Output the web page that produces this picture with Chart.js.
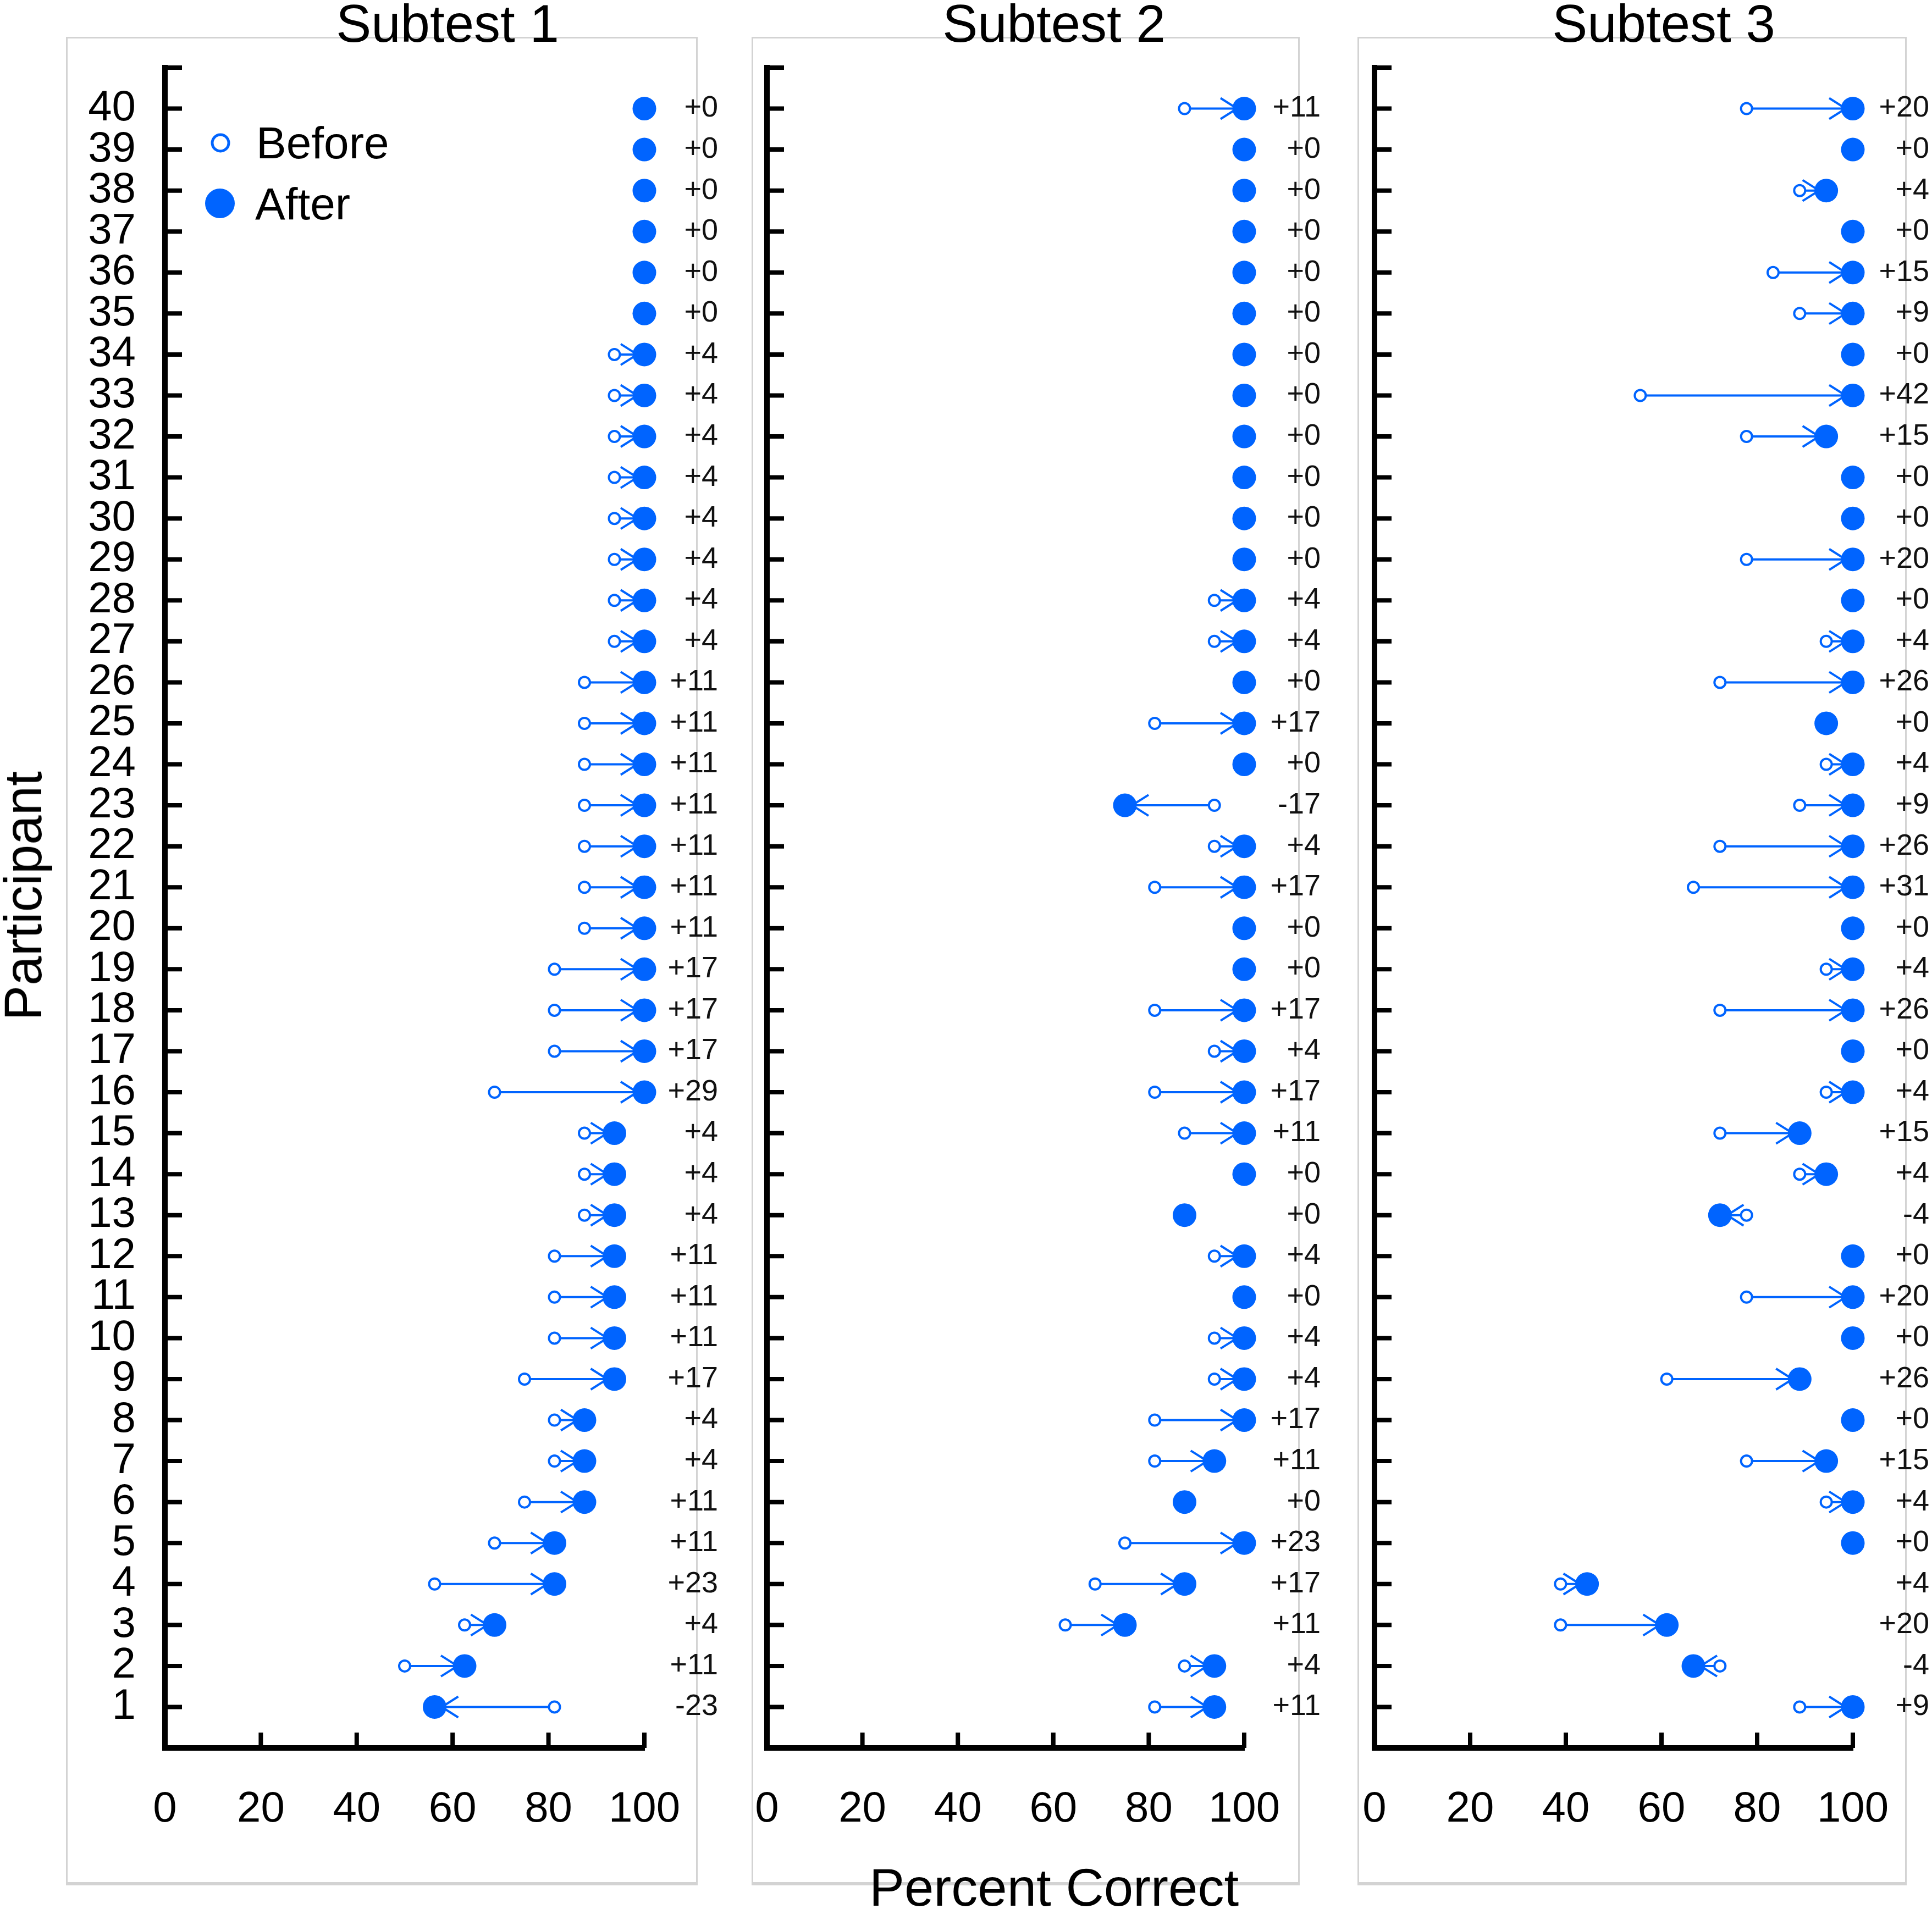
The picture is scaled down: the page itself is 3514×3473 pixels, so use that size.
<!DOCTYPE html>
<html lang="en">
<head>
<meta charset="UTF-8">
<title>Percent correct before and after, by subtest</title>
<script src="https://cdn.jsdelivr.net/npm/chart.js@4.4.1/dist/chart.umd.min.js"></script>
<style>
  html, body { margin: 0; padding: 0; background: #fff; }
  body { width: 3514px; height: 3473px; position: relative; overflow: hidden; font-family: "Liberation Sans", Arial, sans-serif; color: #000; }
  .panel { position: absolute; top: 67px; height: 3363px; box-sizing: border-box; border: 3px solid #d3d3d3; border-bottom-width: 6px; }
  canvas { position: absolute; top: 0; }
  .label { position: absolute; font-size: 96px; line-height: 1; white-space: nowrap; }
</style>
</head>
<body>
<div class="panel" style="left:120px; width:1149px;"></div>
<div class="panel" style="left:1367px; width:997px;"></div>
<div class="panel" style="left:2469px; width:999px;"></div>

<canvas id="chart1" width="1320" height="3473" style="left:0px;"></canvas>
<canvas id="chart2" width="1125" height="3473" style="left:1305px;"></canvas>
<canvas id="chart3" width="1104" height="3473" style="left:2410px;"></canvas>

<div id="titles"></div>
<div class="label" style="left:42px; top:1630px; transform:translate(-50%,-50%) rotate(-90deg);">Participant</div>
<div class="label" style="left:1917px; top:3386px; transform:translateX(-50%);">Percent Correct</div>

<script>
// participants, bottom (1) to top (40)
const participants = [1, 2, 3, 4, 5, 6, 7, 8, 9, 10, 11, 12, 13, 14, 15, 16, 17, 18, 19, 20,
                      21, 22, 23, 24, 25, 26, 27, 28, 29, 30, 31, 32, 33, 34, 35, 36, 37, 38, 39, 40];
const subtestNames = ['Subtest 1', 'Subtest 2', 'Subtest 3'];
const seriesNames = ['Before', 'After'];

// Subtest 1
const sub1Before = [81.25, 50, 62.5, 56.25, 68.75, 75, 81.25, 81.25, 75, 81.25,
                    81.25, 81.25, 87.5, 87.5, 87.5, 68.75, 81.25, 81.25, 81.25, 87.5,
                    87.5, 87.5, 87.5, 87.5, 87.5, 87.5, 93.75, 93.75, 93.75, 93.75,
                    93.75, 93.75, 93.75, 93.75, 100, 100, 100, 100, 100, 100];
const sub1After = [56.25, 62.5, 68.75, 81.25, 81.25, 87.5, 87.5, 87.5, 93.75, 93.75,
                   93.75, 93.75, 93.75, 93.75, 93.75, 100, 100, 100, 100, 100,
                   100, 100, 100, 100, 100, 100, 100, 100, 100, 100,
                   100, 100, 100, 100, 100, 100, 100, 100, 100, 100];
const sub1Change = [-23, 11, 4, 23, 11, 11, 4, 4, 17, 11,
                    11, 11, 4, 4, 4, 29, 17, 17, 17, 11,
                    11, 11, 11, 11, 11, 11, 4, 4, 4, 4,
                    4, 4, 4, 4, 0, 0, 0, 0, 0, 0];

// Subtest 2
const sub2Before = [81.25, 87.5, 62.5, 68.75, 75, 87.5, 81.25, 81.25, 93.75, 93.75,
                    100, 93.75, 87.5, 100, 87.5, 81.25, 93.75, 81.25, 100, 100,
                    81.25, 93.75, 93.75, 100, 81.25, 100, 93.75, 93.75, 100, 100,
                    100, 100, 100, 100, 100, 100, 100, 100, 100, 87.5];
const sub2After = [93.75, 93.75, 75, 87.5, 100, 87.5, 93.75, 100, 100, 100,
                   100, 100, 87.5, 100, 100, 100, 100, 100, 100, 100,
                   100, 100, 75, 100, 100, 100, 100, 100, 100, 100,
                   100, 100, 100, 100, 100, 100, 100, 100, 100, 100];
const sub2Change = [11, 4, 11, 17, 23, 0, 11, 17, 4, 4,
                    0, 4, 0, 0, 11, 17, 4, 17, 0, 0,
                    17, 4, -17, 0, 17, 0, 4, 4, 0, 0,
                    0, 0, 0, 0, 0, 0, 0, 0, 0, 11];

// Subtest 3
const sub3Before = [88.89, 72.22, 38.89, 38.89, 100, 94.44, 77.78, 100, 61.11, 100,
                    77.78, 100, 77.78, 88.89, 72.22, 94.44, 100, 72.22, 94.44, 100,
                    66.67, 72.22, 88.89, 94.44, 94.44, 72.22, 94.44, 100, 77.78, 100,
                    100, 77.78, 55.56, 100, 88.89, 83.33, 100, 88.89, 100, 77.78];
const sub3After = [100, 66.67, 61.11, 44.44, 100, 100, 94.44, 100, 88.89, 100,
                   100, 100, 72.22, 94.44, 88.89, 100, 100, 100, 100, 100,
                   100, 100, 100, 100, 94.44, 100, 100, 100, 100, 100,
                   100, 94.44, 100, 100, 100, 100, 100, 94.44, 100, 100];
const sub3Change = [9, -4, 20, 4, 0, 4, 15, 0, 26, 0,
                    20, 0, -4, 4, 15, 4, 0, 26, 4, 0,
                    31, 26, 9, 4, 0, 26, 4, 0, 20, 0,
                    0, 15, 42, 0, 9, 15, 0, 4, 0, 20];

const blue = '#0064ff';
Chart.defaults.font.family = '"Liberation Sans", Arial, sans-serif';
Chart.defaults.color = '#000';

// subplot titles (HTML text)
const titleCentres = [814, 1917, 3026];
subtestNames.forEach((name, i) => {
    const d = document.createElement('div');
    d.className = 'label';
    d.textContent = name;
    d.style.left = titleCentres[i] + 'px';
    d.style.top = '-5px';
    d.style.transform = 'translateX(-50%)';
    document.getElementById('titles').appendChild(d);
});

// tick marks pointing into the plot
const inwardTicks = {
    id: 'inwardTicks',
    beforeDatasetsDraw(chart) {
        const {ctx, chartArea: a, scales: {x, y}} = chart;
        ctx.save();
        ctx.strokeStyle = '#000';
        ctx.lineWidth = 8;
        ctx.beginPath();
        y.ticks.forEach(t => {
            if (t.value < 1) return;
            const py = y.getPixelForValue(t.value);
            ctx.moveTo(a.left, py);
            ctx.lineTo(a.left + 31, py);
        });
        x.ticks.forEach(t => {
            if (t.value <= 0) return;
            const px = x.getPixelForValue(t.value);
            ctx.moveTo(px, a.bottom);
            ctx.lineTo(px, a.bottom - 28);
        });
        ctx.stroke();
        ctx.restore();
    }
};

// arrows from the before score to the after score
function arrowPlugin(before, after) {
    return {
        id: 'arrows',
        beforeDatasetsDraw(chart) {
            const {ctx, scales: {x, y}} = chart;
            ctx.save();
            ctx.strokeStyle = blue;
            ctx.lineWidth = 4;
            participants.forEach((p, i) => {
                if (before[i] === after[i]) return;
                const xb = x.getPixelForValue(before[i]);
                const xa = x.getPixelForValue(after[i]);
                const py = y.getPixelForValue(p);
                const dir = xa > xb ? 1 : -1;
                const tip = xa - dir * 13;
                ctx.beginPath();
                ctx.moveTo(xb, py);
                ctx.lineTo(tip, py);
                ctx.moveTo(tip - dir * 30, py - 19);
                ctx.lineTo(tip, py);
                ctx.lineTo(tip - dir * 30, py + 19);
                ctx.stroke();
            });
            ctx.restore();
        }
    };
}

// change labels at the right of each row
function changePlugin(change, offset) {
    return {
        id: 'changeLabels',
        afterDatasetsDraw(chart) {
            const {ctx, scales: {x, y}} = chart;
            const right = x.getPixelForValue(100) + offset;
            ctx.save();
            ctx.fillStyle = '#111';
            ctx.font = '54px "Liberation Sans", Arial, sans-serif';
            ctx.textAlign = 'right';
            ctx.textBaseline = 'middle';
            participants.forEach((p, i) => {
                const txt = change[i] < 0 ? String(change[i]) : '+' + change[i];
                ctx.fillText(txt, right, y.getPixelForValue(p));
            });
            ctx.restore();
        }
    };
}

// legend inside subtest 1
const legendPlugin = {
    id: 'innerLegend',
    afterDatasetsDraw(chart) {
        const ctx = chart.ctx;
        ctx.save();
        ctx.strokeStyle = blue;
        ctx.fillStyle = '#fff';
        ctx.lineWidth = 5;
        ctx.beginPath();
        ctx.arc(401, 260, 15, 0, Math.PI * 2);
        ctx.fill();
        ctx.stroke();
        ctx.fillStyle = blue;
        ctx.beginPath();
        ctx.arc(400, 370, 27, 0, Math.PI * 2);
        ctx.fill();
        ctx.fillStyle = '#000';
        ctx.font = '82px "Liberation Sans", Arial, sans-serif';
        ctx.textAlign = 'left';
        ctx.textBaseline = 'alphabetic';
        ctx.fillText(seriesNames[0], 466, 288);
        ctx.fillText(seriesNames[1], 464, 399);
        ctx.restore();
    }
};

function makeChart(id, before, after, change, layout) {
    const points = vals => participants.map((p, i) => ({x: vals[i], y: p}));
    const extra = layout.legend ? [legendPlugin] : [];
    return new Chart(document.getElementById(id), {
        type: 'scatter',
        data: {
            datasets: [{
                label: seriesNames[0],
                data: points(before),
                order: 2,
                clip: false,
                pointRadius: 10,
                pointBorderWidth: 4,
                pointBackgroundColor: '#fff',
                pointBorderColor: blue
            }, {
                label: seriesNames[1],
                data: points(after),
                order: 1,
                clip: false,
                pointRadius: 21.5,
                pointBorderWidth: 0,
                pointBackgroundColor: blue,
                pointBorderColor: blue
            }]
        },
        options: {
            responsive: false,
            animation: false,
            events: [],
            layout: { padding: { top: 123, right: layout.padRight, bottom: 0, left: 0 } },
            plugins: { legend: { display: false }, tooltip: { enabled: false } },
            scales: {
                x: {
                    type: 'linear', position: 'bottom', min: 0, max: 100,
                    afterFit: s => { s.height = 293; },
                    grid: { drawOnChartArea: false, drawTicks: false },
                    border: { color: '#000', width: 10 },
                    ticks: { stepSize: 20, padding: 66, font: { size: 78 } }
                },
                y: {
                    type: 'linear', position: 'left', min: 0, max: 41,
                    afterFit: s => { s.width = layout.axisLeft; },
                    grid: { drawOnChartArea: false, drawTicks: false },
                    border: { color: '#000', width: 10 },
                    ticks: {
                        stepSize: 1, autoSkip: false, padding: 53, font: { size: 78 },
                        callback: v => (layout.showY && v >= 1 && v <= 40) ? String(v) : ''
                    }
                }
            }
        },
        plugins: [inwardTicks, arrowPlugin(before, after), changePlugin(change, layout.labelOffset)].concat(extra)
    });
}

makeChart('chart1', sub1Before, sub1After, sub1Change, { axisLeft: 300, padRight: 148, showY: true, legend: true, labelOffset: 134 });
makeChart('chart2', sub2Before, sub2After, sub2Change, { axisLeft: 90, padRight: 167, showY: false, legend: false, labelOffset: 139 });
makeChart('chart3', sub3Before, sub3After, sub3Change, { axisLeft: 90, padRight: 144, showY: false, legend: false, labelOffset: 139 });
</script>
</body>
</html>
